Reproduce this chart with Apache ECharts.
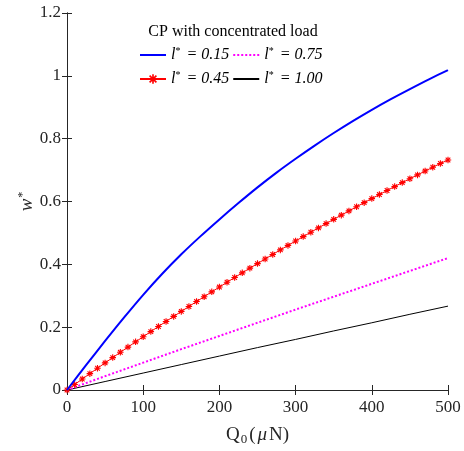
<!DOCTYPE html>
<html>
<head>
<meta charset="utf-8">
<script src="https://cdn.jsdelivr.net/npm/echarts@6/dist/echarts.min.js"></script>
<style>
  html, body { margin: 0; padding: 0; background: #fff; }
  #chart { width: 464px; height: 451px; }
</style>
</head>
<body>
<div id="chart"></div>
<script>
// Load Q0 (μN) sampling used by each curve
const loadsCoarse = [0, 25, 50, 75, 100, 125, 150, 175, 200, 225, 250, 275, 300, 325, 350, 375, 400, 425, 450, 475, 500];
const loadsMid = [0, 50, 100, 150, 200, 250, 300, 350, 400, 450, 500];
const loadsFine = [0, 10, 20, 30, 40, 50, 60, 70, 80, 90, 100, 110, 120, 130, 140, 150, 160, 170, 180, 190, 200,
  210, 220, 230, 240, 250, 260, 270, 280, 290, 300, 310, 320, 330, 340, 350, 360, 370, 380, 390, 400,
  410, 420, 430, 440, 450, 460, 470, 480, 490, 500];

// Deflection w* for each length ratio l*
const w015 = [0, 0.079, 0.156, 0.231, 0.303, 0.370, 0.432, 0.489, 0.543, 0.595, 0.645, 0.692, 0.736, 0.778, 0.818,
  0.856, 0.892, 0.926, 0.958, 0.989, 1.018];
const w045 = [0, 0.0175, 0.0349, 0.0521, 0.0693, 0.0863, 0.1032, 0.1200, 0.1366, 0.1532, 0.1696, 0.1859, 0.2022,
  0.2182, 0.2343, 0.2501, 0.2658, 0.2815, 0.2970, 0.3125, 0.3277, 0.3429, 0.3580, 0.3729, 0.3878, 0.4024, 0.4170,
  0.4315, 0.4459, 0.4602, 0.4743, 0.4883, 0.5022, 0.5160, 0.5297, 0.5432, 0.5566, 0.5700, 0.5832, 0.5963, 0.6093,
  0.6221, 0.6349, 0.6475, 0.6601, 0.6725, 0.6847, 0.6969, 0.7090, 0.7210, 0.7320];
const w075 = [0, 0.044, 0.087, 0.130, 0.172, 0.214, 0.256, 0.297, 0.338, 0.379, 0.420];
const w100 = [0, 0.027, 0.054, 0.081, 0.108, 0.135, 0.161, 0.188, 0.214, 0.241, 0.267];

const seriesNames = ['l* = 0.15', 'l* = 0.45', 'l* = 0.75', 'l* = 1.00'];
const legendTitle = 'CP with concentrated load';

const pairs = (xs, ys) => xs.map((x, i) => [x, ys[i]]);

const serif = '"Liberation Serif", "DejaVu Serif", serif';
const axisColor = '#262626';

// asterisk marker: vertical, horizontal and two diagonal bars
const asterisk = 'path://M-1.7,-10L1.7,-10L1.7,10L-1.7,10Z' +
  'M-10,-1.7L10,-1.7L10,1.7L-10,1.7Z' +
  'M-8.3,-5.9L-5.9,-8.3L8.3,5.9L5.9,8.3Z' +
  'M5.9,-8.3L8.3,-5.9L-5.9,8.3L-8.3,5.9Z';

const legendRich = {
  i: { fontFamily: serif, fontStyle: 'italic', fontSize: 16, color: '#000', lineHeight: 18 },
  s: { fontFamily: serif, fontSize: 10, color: '#000', verticalAlign: 'top', lineHeight: 18, padding: [0, 2, 8, 0] }
};
const legendFormatter = name => '{i|l}{s|*}{i|' + name.slice(2) + '}';

// plain-line entries carry no marker in the legend
const plainEntry = name => ({ name: name, itemStyle: { opacity: 0 } });

const legendCommon = {
  orient: 'horizontal',
  itemWidth: 26,
  itemHeight: 12,
  itemGap: 3,
  padding: 0,
  formatter: legendFormatter,
  textStyle: { rich: legendRich, fontFamily: serif, fontSize: 16 },
  selectedMode: false
};

const axisBase = {
  type: 'value',
  axisLine: { show: true, lineStyle: { color: axisColor, width: 1 } },
  axisTick: { show: true, inside: true, length: 5, lineStyle: { color: axisColor } },
  splitLine: { show: false }
};

const chart = echarts.init(document.getElementById('chart'), null, { renderer: 'canvas' });

chart.setOption({
  animation: false,
  backgroundColor: '#fff',
  grid: { left: 67, right: 16, top: 13, bottom: 58, containLabel: false },
  title: {
    text: legendTitle,
    left: 228,
    top: 19,
    textAlign: 'center',
    textStyle: { fontFamily: serif, fontSize: 16, fontWeight: 'normal', color: '#000' }
  },
  legend: [
    Object.assign({ data: [plainEntry(seriesNames[0]), plainEntry(seriesNames[2])], left: 139, top: 46 }, legendCommon),
    Object.assign({ data: [seriesNames[1], plainEntry(seriesNames[3])], left: 139, top: 70 }, legendCommon)
  ],
  xAxis: [
    Object.assign({}, axisBase, {
      position: 'bottom',
      min: 0, max: 500, interval: 100,
      axisLabel: { fontFamily: serif, fontSize: 17, color: axisColor, margin: 9 },
      name: '{t|Q}{sub|0}{t|(}{it|μ}{t|N)}',
      nameLocation: 'middle',
      nameGap: 34,
      nameTextStyle: {
        rich: {
          t: { fontFamily: serif, fontSize: 19, color: axisColor, lineHeight: 22, padding: [0, 1, 0, 1] },
          it: { fontFamily: serif, fontSize: 19, fontStyle: 'italic', color: axisColor, lineHeight: 22, padding: [0, 1, 0, 1] },
          sub: { fontFamily: serif, fontSize: 13, color: axisColor, verticalAlign: 'bottom', lineHeight: 22, padding: [7, 1, 0, 0] }
        }
      }
    }),
    Object.assign({}, axisBase, {
      position: 'top',
      min: 0, max: 500, interval: 100,
      axisLabel: { show: false }
    })
  ],
  yAxis: [
    Object.assign({}, axisBase, {
      position: 'left',
      min: 0, max: 1.2, interval: 0.2,
      axisLabel: { fontFamily: serif, fontSize: 17, color: axisColor, margin: 6 },
      name: '{w|w}{s|*}',
      nameLocation: 'middle',
      nameGap: 30,
      nameMoveOverlap: false,
      nameRotate: 90,
      nameTextStyle: {
        rich: {
          w: { fontFamily: serif, fontSize: 19, fontStyle: 'italic', color: axisColor, lineHeight: 20 },
          s: { fontFamily: serif, fontSize: 12, color: axisColor, verticalAlign: 'top', lineHeight: 20, padding: [0, 0, 8, 1] }
        }
      }
    }),
    Object.assign({}, axisBase, {
      position: 'right',
      min: 0, max: 1.2, interval: 0.2,
      axisLabel: { show: false }
    })
  ],
  series: [
    {
      name: seriesNames[0], type: 'line', xAxisIndex: 0, yAxisIndex: 0,
      data: pairs(loadsCoarse, w015),
      smooth: 0.3, showSymbol: false, symbol: 'none',
      lineStyle: { color: '#0000ff', width: 2 }, itemStyle: { color: '#0000ff' }, z: 4
    },
    {
      name: seriesNames[1], type: 'line', xAxisIndex: 0, yAxisIndex: 0,
      data: pairs(loadsFine, w045),
      symbol: asterisk, symbolSize: 6.5, showSymbol: true,
      lineStyle: { color: '#ff0000', width: 1 },
      itemStyle: { color: '#ff0000' }, z: 3
    },
    {
      name: seriesNames[2], type: 'line', xAxisIndex: 0, yAxisIndex: 0,
      data: pairs(loadsMid, w075),
      showSymbol: false, symbol: 'none',
      lineStyle: { color: '#ff00ff', width: 2, type: 'dotted' }, itemStyle: { color: '#ff00ff' }, z: 2
    },
    {
      name: seriesNames[3], type: 'line', xAxisIndex: 0, yAxisIndex: 0,
      data: pairs(loadsMid, w100),
      showSymbol: false, symbol: 'none',
      lineStyle: { color: '#000000', width: 1 }, itemStyle: { color: '#000000' }, z: 1
    }
  ]
});
</script>
</body>
</html>
